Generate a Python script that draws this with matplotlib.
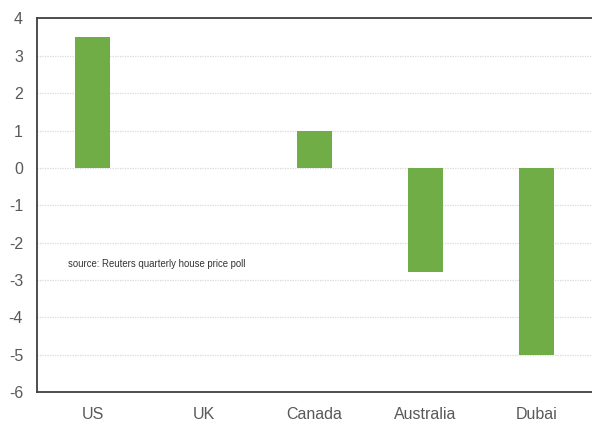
import matplotlib
matplotlib.use("Agg")
import matplotlib.pyplot as plt
from matplotlib import font_manager

# house price change forecasts
countries = ["US", "UK", "Canada", "Australia", "Dubai"]
values = [3.5, 0.0, 1.0, -2.8, -5.0]
yticks = [-6, -5, -4, -3, -2, -1, 0, 1, 2, 3, 4]

names = {f.name for f in font_manager.fontManager.ttflist}
family = "Liberation Sans Narrow" if "Liberation Sans Narrow" in names else "Liberation Sans"
plt.rcParams["font.family"] = [family, "DejaVu Sans"]
plt.rcParams["axes.unicode_minus"] = False

fig = plt.figure(figsize=(5.92, 4.25), dpi=100)
ax = fig.add_axes([0.0625, 0.0776, 0.9375, 0.8789])

x = range(len(countries))
ax.bar(x, values, width=0.32, color="#70AD47", zorder=3)

ax.set_xlim(-0.5, len(countries) - 0.5)
ax.set_ylim(-6, 4)
ax.set_yticks(yticks)
ax.set_xticks(list(x))
ax.set_xticklabels(countries)

ax.grid(axis="y", color="#d9d9d9", linestyle=(0, (1, 1)), linewidth=0.9, zorder=0)
ax.tick_params(length=0, labelsize=11.5, labelcolor="#595959")
ax.tick_params(axis="y", pad=10)
ax.tick_params(axis="x", pad=11)

for side in ["left", "top", "bottom"]:
    ax.spines[side].set_color("#404040")
    ax.spines[side].set_linewidth(1.3)
ax.spines["right"].set_visible(False)

ax.text(0.056, -2.57, "source: Reuters quarterly house price poll",
        transform=ax.get_yaxis_transform(), fontsize=6.9, color="#333333",
        va="center", ha="left")

fig.savefig("out.png", dpi=100)
